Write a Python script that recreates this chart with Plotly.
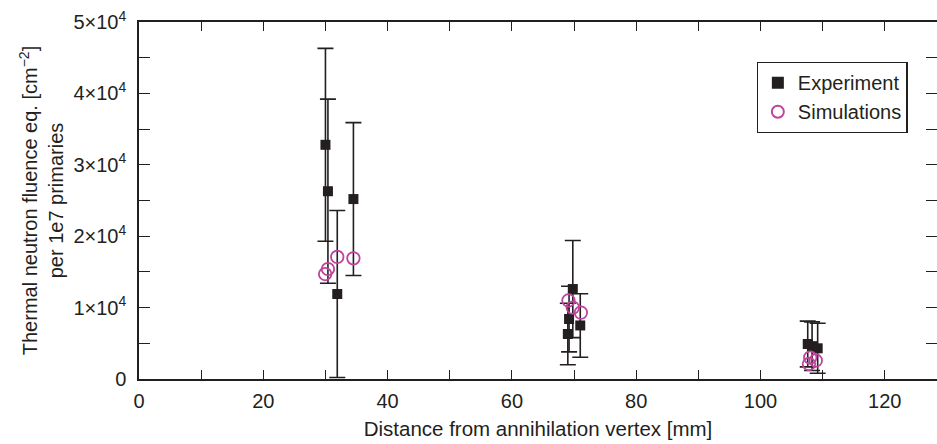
import plotly.graph_objects as go

# Experiment data
exp_x = [30.0, 30.4, 31.9, 34.5, 69.8, 69.2, 69.0, 71.0, 107.6, 108.3, 109.2]
exp_y = [32800, 26300, 11900, 25200, 12600, 8400, 6300, 7500, 4900, 4600, 4300]
exp_err = [13500, 12900, 11700, 10700, 6800, 4600, 4300, 4450, 3200, 3400, 3500]

# Simulation data
sim_x = [29.95, 30.4, 31.9, 34.5, 69.1, 69.8, 71.1, 107.8, 108.0, 108.9]
sim_y = [14700, 15400, 17100, 16900, 11000, 10000, 9300, 2100, 3000, 2600]

x_ticks = [0, 20, 40, 60, 80, 100, 120]
y_ticks = [0, 10000, 20000, 30000, 40000, 50000]
y_ticktext = ["0", "1×10<sup>4</sup>", "2×10<sup>4</sup>", "3×10<sup>4</sup>",
              "4×10<sup>4</sup>", "5×10<sup>4</sup>"]

ink = "#231f20"
magenta = "#c0449c"
font_family = "Liberation Sans, Arial, Helvetica, sans-serif"

fig = go.Figure()
fig.add_trace(go.Scatter(
    x=exp_x, y=exp_y, mode="markers", name="Experiment",
    marker=dict(symbol="square", size=10, color=ink),
    error_y=dict(type="data", array=exp_err, visible=True, color=ink,
                 thickness=1.6, width=8),
))
fig.add_trace(go.Scatter(
    x=sim_x, y=sim_y, mode="markers", name="Simulations",
    marker=dict(symbol="circle-open", size=12.5, color=magenta,
                line=dict(width=1.8, color=magenta)),
))

axis_common = dict(
    showline=True, linecolor=ink, linewidth=1.5, mirror="ticks",
    ticks="inside", tickcolor=ink, tickwidth=1.2, showgrid=False,
    zeroline=False, tickfont=dict(size=20, color=ink, family=font_family),
    automargin=False,
)

fig.update_xaxes(
    range=[0, 128.4], tickvals=x_ticks, ticklen=9, ticklabelstandoff=3,
    minor=dict(dtick=10, ticks="inside", ticklen=9, tickcolor=ink, tickwidth=1.2, showgrid=False),
    title=dict(text="Distance from annihilation vertex [mm]",
               font=dict(size=20.5, color=ink, family=font_family), standoff=11),
    **axis_common,
)
fig.update_yaxes(
    range=[0, 50000], tickvals=y_ticks, ticktext=y_ticktext, ticklen=11,
    ticklabelstandoff=7,
    minor=dict(dtick=5000, ticks="inside", ticklen=11, tickcolor=ink, tickwidth=1.2, showgrid=False),
    title=dict(text="Thermal neutron fluence eq. [cm<sup>−2</sup>]<br>per 1e7 primaries",
               font=dict(size=20, color=ink, family=font_family), standoff=4),
    **axis_common,
)

fig.update_layout(
    width=937, height=444, autosize=False,
    margin=dict(l=139, r=0, t=22, b=65, pad=0),
    plot_bgcolor="white", paper_bgcolor="white",
    font=dict(family=font_family, size=20, color=ink),
    showlegend=True,
    legend=dict(x=0.774, y=0.888, xanchor="left", yanchor="top",
                bordercolor=ink, borderwidth=1.2, bgcolor="white",
                font=dict(size=20, color=ink, family=font_family),
                itemsizing="constant", tracegroupgap=0),
)

fig.write_html("out.html", config={"displayModeBar": False},
               post_script="document.body.style.margin='0';")
